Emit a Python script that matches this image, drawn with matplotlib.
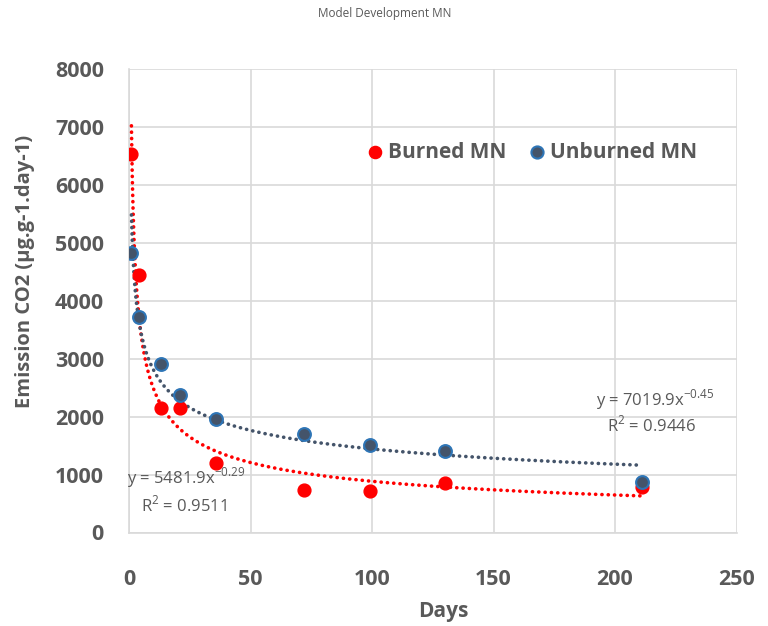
import numpy as np
import matplotlib
matplotlib.use("Agg")
import matplotlib.pyplot as plt

# Incubation days and CO2 emission measurements
days = [1, 4, 13, 21, 36, 72, 99, 130, 211]
burned = [6540, 4440, 2150, 2150, 1200, 740, 710, 850, 780]
unburned = [4830, 3720, 2900, 2370, 1960, 1700, 1510, 1400, 870]

# Power-law trendline coefficients (y = a * x^b) and R²
burned_fit = (7019.9, -0.45, 0.9446)
unburned_fit = (5481.9, -0.29, 0.9511)

x_ticks = [0, 50, 100, 150, 200, 250]
y_ticks = [0, 1000, 2000, 3000, 4000, 5000, 6000, 7000, 8000]

GRAY = "#595959"
RED = "#FF0000"
SLATE = "#44546A"
EDGE_BLUE = "#2E75B6"
GRID = "#D9D9D9"
FONT = "Open Sans"

fig = plt.figure(figsize=(7.68, 6.26), dpi=100)
ax = fig.add_axes([129 / 768, 1 - 532.5 / 626, (736.5 - 129) / 768, (532.5 - 69) / 626])

# Trendlines (dotted)
xf = np.linspace(min(days), max(days), 600)
dots = (0, (0.05, 1.7))
ax.plot(xf, burned_fit[0] * xf ** burned_fit[1], linestyle=dots,
        dash_capstyle="round", color=RED, lw=2.6, zorder=3)
ax.plot(xf, unburned_fit[0] * xf ** unburned_fit[1], linestyle=dots,
        dash_capstyle="round", color=SLATE, lw=2.6, zorder=3)

# Observations
ax.scatter(days, burned, s=85, color=RED, edgecolor=RED, zorder=4, label="Burned MN")
ax.scatter(days, unburned, s=85, color=SLATE, edgecolor=EDGE_BLUE, linewidth=1.5,
           zorder=5, label="Unburned MN")

ax.set_xlim(0, 250)
ax.set_ylim(0, 8000)
ax.set_xticks(x_ticks)
ax.set_yticks(y_ticks)
ax.grid(True, color=GRID, lw=1.2)
ax.set_axisbelow(True)
for side in ("top", "right"):
    ax.spines[side].set_visible(False)
for side in ("left", "bottom"):
    ax.spines[side].set_color(GRID)
    ax.spines[side].set_linewidth(1.2)
ax.tick_params(length=0, labelsize=15.5, labelcolor=GRAY)
ax.tick_params(axis="y", pad=18)
ax.tick_params(axis="x", pad=26)
for lab in ax.get_xticklabels() + ax.get_yticklabels():
    lab.set_fontweight("bold")
    lab.set_fontfamily(FONT)

fig.text(443 / 768, 1 - 612 / 626, "Days", ha="center", va="center",
         fontsize=15, fontweight="bold", color=GRAY, family=FONT)
fig.text(25 / 768, 1 - 271 / 626, "Emission CO2 (µg.g-1.day-1)", ha="center",
         va="center", rotation=90, fontsize=14.5, fontweight="bold", color=GRAY,
         family=FONT)
fig.text(385 / 768, 1 - 14 / 626, "Model Development MN", ha="center", va="center",
         fontsize=8.5, color=GRAY, family=FONT)

ax.legend(loc="center", bbox_to_anchor=((533 - 129) / (736.5 - 129),
          (532.5 - 152) / (532.5 - 69)), ncol=2, frameon=False,
          prop={"family": FONT, "weight": "bold", "size": 15},
          labelcolor=GRAY, handlelength=0.6, handletextpad=0.3,
          columnspacing=1.2, markerscale=0.95)

# Trendline equations
fig.text(655 / 768, 1 - 400 / 626, r"y = 7019.9x$^{\mathregular{-0.45}}$",
         fontsize=12, color=GRAY, family=FONT, ha="center", va="center")
fig.text(651 / 768, 1 - 425 / 626, r"R$^{\mathregular{2}}$ = 0.9446",
         fontsize=12, color=GRAY, family=FONT, ha="center", va="center")
fig.text(186 / 768, 1 - 478 / 626, r"y = 5481.9x$^{\mathregular{-0.29}}$",
         fontsize=12, color=GRAY, family=FONT, ha="center", va="center")
fig.text(184 / 768, 1 - 505 / 626, r"R$^{\mathregular{2}}$ = 0.9511",
         fontsize=12, color=GRAY, family=FONT, ha="center", va="center")

fig.savefig("out.png", dpi=100)
